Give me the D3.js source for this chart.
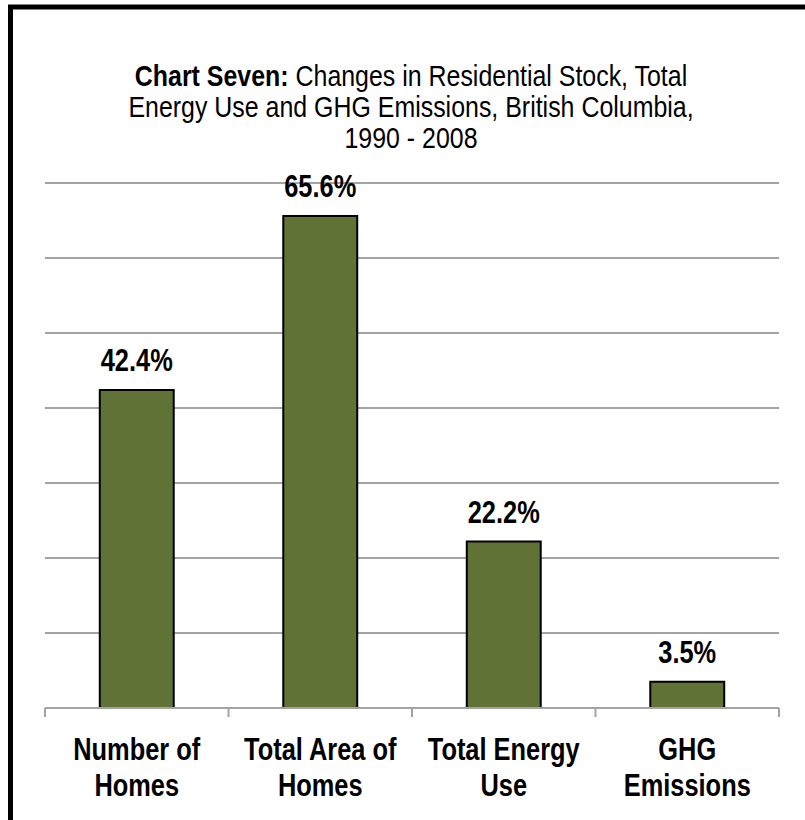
<!DOCTYPE html>
<meta charset="utf-8">
<script src="https://d3js.org/d3.v7.min.js"></script>
<style>
  body { margin: 0; background: #fff; }
  text { font-family: "Liberation Sans", Arial, sans-serif; }
</style>
<div id="chart"></div>
<script>
// Data
var categories = [["Number of", "Homes"], ["Total Area of", "Homes"], ["Total Energy", "Use"], ["GHG", "Emissions"]];
var values = [42.4, 65.6, 22.2, 3.5];
var gridTicks = [0, 10, 20, 30, 40, 50, 60, 70];
var titleLines = [
  [["Chart Seven:", true], [" Changes in Residential Stock, Total", false]],
  [["Energy Use and GHG Emissions, British Columbia,", false]],
  [["1990 - 2008", false]]
];

var W = 805, H = 820;
var svg = d3.select("#chart").append("svg").attr("width", W).attr("height", H);

// squeeze Liberation Sans sideways so it reads like Arial Narrow
function place(x, y, sx) { return "translate(" + x + "," + y + ") scale(" + sx + ",1)"; }

// frame (right and bottom edges fall off the picture)
svg.append("rect")
  .attr("x", 10.5).attr("y", 7)
  .attr("width", 820).attr("height", 840)
  .attr("fill", "none").attr("stroke", "black").attr("stroke-width", 5);

// scales
var x = d3.scaleBand()
  .domain(d3.range(categories.length))
  .range([45, 779])
  .paddingInner(0.597).paddingOuter(0.2985);
var y = d3.scaleLinear().domain([0, 70]).range([708, 183]);

// title
var title = svg.append("text")
  .attr("transform", place(411, 86, 0.86))
  .attr("text-anchor", "middle").attr("font-size", 29).attr("fill", "#000");
titleLines.forEach(function(line, i) {
  line.forEach(function(part, j) {
    var ts = title.append("tspan").text(part[0]).attr("font-weight", part[1] ? "bold" : "normal");
    if (j === 0) ts.attr("x", 0).attr("y", i * 31);
  });
});

// gridlines
svg.append("g").selectAll("line")
  .data(gridTicks.slice(1))
  .join("line")
  .attr("x1", 45).attr("x2", 779)
  .attr("y1", function(d) { return y(d); })
  .attr("y2", function(d) { return y(d); })
  .attr("stroke", "#a3a3a3").attr("stroke-width", 2);

// bars
svg.append("g").selectAll("rect")
  .data(values)
  .join("rect")
  .attr("x", function(d, i) { return x(i); })
  .attr("width", x.bandwidth())
  .attr("y", function(d) { return y(d); })
  .attr("height", function(d) { return y(0) - y(d); })
  .attr("fill", "#607235")
  .attr("stroke", "black").attr("stroke-width", 2);

// x axis line and category ticks
svg.append("line")
  .attr("x1", 45).attr("x2", 779)
  .attr("y1", y(0)).attr("y2", y(0))
  .attr("stroke", "#a3a3a3").attr("stroke-width", 2);
var boundaries = d3.range(categories.length + 1).map(function(i) { return 45 + i * x.step(); });
svg.append("g").selectAll("line")
  .data(boundaries)
  .join("line")
  .attr("x1", function(d) { return d; }).attr("x2", function(d) { return d; })
  .attr("y1", y(0)).attr("y2", y(0) + 9)
  .attr("stroke", "#a3a3a3").attr("stroke-width", 2);

// value labels
svg.append("g").selectAll("text")
  .data(values)
  .join("text")
  .attr("transform", function(d, i) { return place(x(i) + x.bandwidth() / 2, y(d) - 19, 0.82); })
  .attr("text-anchor", "middle")
  .attr("font-size", 31).attr("font-weight", "bold")
  .text(function(d) { return d.toFixed(1) + "%"; });

// category labels
var cat = svg.append("g").selectAll("text")
  .data(categories)
  .join("text")
  .attr("transform", function(d, i) { return place(x(i) + x.bandwidth() / 2, 760, 0.82); })
  .attr("text-anchor", "middle")
  .attr("font-size", 31).attr("font-weight", "bold");
cat.each(function(lines) {
  var t = d3.select(this);
  lines.forEach(function(l, k) {
    t.append("tspan").attr("x", 0).attr("y", k * 36).text(l);
  });
});
</script>
